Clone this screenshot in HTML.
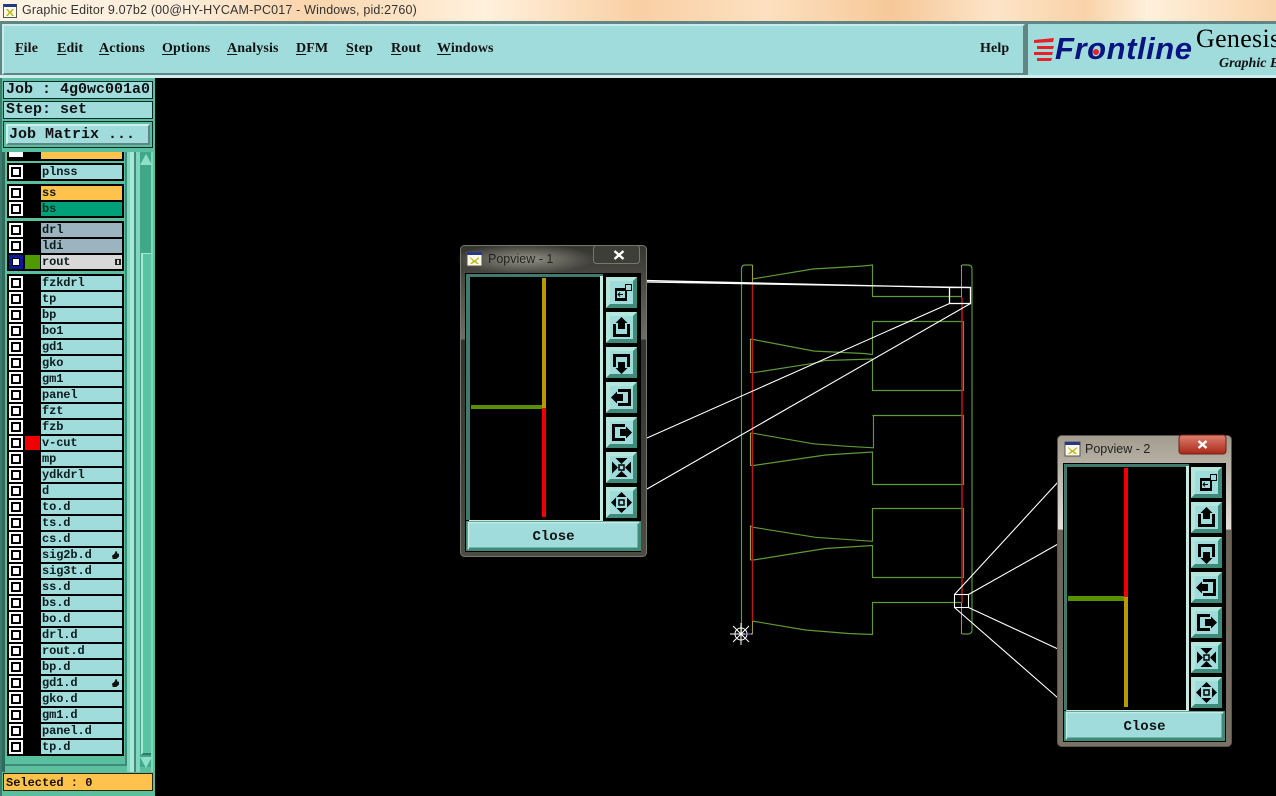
<!DOCTYPE html>
<html><head><meta charset="utf-8"><title>Graphic Editor</title>
<style>
html,body{margin:0;padding:0;width:1276px;height:796px;overflow:hidden;background:#000}
#p{position:relative;width:1276px;height:796px;overflow:hidden;background:#000}
#p div{position:absolute;box-sizing:border-box}
.m{font:bold 14px "Liberation Serif",serif;letter-spacing:.12px;color:#111;top:41px;white-space:nowrap}
.m u{text-underline-offset:2px}
.mono{font:bold 15px "Liberation Mono",monospace;color:#111;white-space:pre}
.blk{background:#000;left:7px;width:117px}
.r{left:41px;width:81px;height:14px;background:#a0dcdc;font:bold 12px/14px "Liberation Mono",monospace;color:#0c1c1c;padding-left:1px;letter-spacing:-.1px}
.r::before{content:"";position:absolute;left:-32px;top:0;width:14px;height:14px;box-sizing:border-box;background:#fff;border:2px solid #fff;box-shadow:inset 0 0 0 2px #000}
.r.n::before{background:#fff;border:3px solid #0a1a9a;box-shadow:inset 0 0 0 1px #000}
.s{left:25px;width:15px;height:14px}
.h::after{content:"";position:absolute;right:3px;top:3px;width:7px;height:8px;background:#111;clip-path:polygon(55% 0,75% 10%,70% 30%,100% 35%,100% 70%,60% 100%,10% 100%,0 60%,35% 35%)}
.b{background:#a0dcdc;border:3px solid;border-color:#d0f0ec #3f8a78 #3f8a78 #d0f0ec;text-align:center;font:bold 14px/21px "Liberation Mono",monospace;color:#111}
svg{position:absolute;left:0;top:0}
</style></head><body><div id="p">

<!-- title bar -->
<div style="left:0;top:0;width:1276px;height:22px;background:linear-gradient(90deg,#fff4e4 0,#fdecd8 15%,#fbd5ac 24%,#fff1dd 38%,#f9cfa4 50%,#fde0c0 60%,#f6c898 70%,#fde4c8 78%,#f9d2a8 85%,#fff0dc 90%,#fad4aa 100%)"></div>
<div style="left:22px;top:3px;font:12.5px 'Liberation Sans',sans-serif;letter-spacing:.17px;color:#333;white-space:nowrap;width:400px">Graphic Editor 9.07b2 (00@HY-HYCAM-PC017 - Windows, pid:2760)</div>
<div style="left:3px;top:4px;width:14px;height:14px;background:#fffbe8;border:1px solid #555;border-top:3px solid #223a88"></div>
<div style="left:6px;top:9px;width:8px;height:7px;background:#b8b820;clip-path:polygon(0 0,25% 0,50% 35%,75% 0,100% 0,65% 50%,100% 100%,75% 100%,50% 65%,25% 100%,0 100%,35% 50%)"></div>

<!-- menu bar -->
<div style="left:0;top:21px;width:1276px;height:57px;background:#5f8584"></div>
<div style="left:2px;top:24px;width:1023px;height:51px;background:#a0dcdc;border:2px solid;border-color:#c8ecec #5f8584 #5f8584 #c8ecec"></div>
<div style="left:0;top:75px;width:1276px;height:3px;background:#cfeef0"></div>
<div style="left:1028px;top:24px;width:248px;height:51px;background:#a0dcdc"></div>
<div class="m" style="left:15px"><u>F</u>ile</div>
<div class="m" style="left:57px"><u>E</u>dit</div>
<div class="m" style="left:99px"><u>A</u>ctions</div>
<div class="m" style="left:162px"><u>O</u>ptions</div>
<div class="m" style="left:227px"><u>A</u>nalysis</div>
<div class="m" style="left:296px"><u>D</u>FM</div>
<div class="m" style="left:346px"><u>S</u>tep</div>
<div class="m" style="left:391px"><u>R</u>out</div>
<div class="m" style="left:437px"><u>W</u>indows</div>
<div class="m" style="left:980px">Help</div>
<div style="left:1055px;top:31px;font:italic bold 31px 'Liberation Sans',sans-serif;color:#0a1480;letter-spacing:.55px;white-space:nowrap">Frontline</div>
<div style="left:1196px;top:24px;font:26px 'Liberation Serif',serif;color:#000;white-space:nowrap;letter-spacing:.3px">Genesis</div>
<div style="left:1219px;top:56px;font:italic bold 14px 'Liberation Serif',serif;color:#111;white-space:nowrap">Graphic E</div>

<!-- left panel -->
<div style="left:0;top:78px;width:155px;height:718px;background:#5abf9f;border-left:2px solid #3f7a6c"></div>
<div style="left:3px;top:81px;width:150px;height:18px;background:#a0dcdc;border:1px solid #0a2a2a"></div>
<div class="mono" style="left:6px;top:81px">Job : 4g0wc001a0</div>
<div style="left:3px;top:101px;width:150px;height:18px;background:#a0dcdc;border:1px solid #0a2a2a"></div>
<div class="mono" style="left:6px;top:101px">Step: set</div>
<div style="left:3px;top:121px;width:150px;height:27px;background:#5abf9f;border:1px solid #0a2a2a"></div>
<div class="b" style="left:6px;top:124px;width:144px;height:21px;border-width:2px;border-color:#d0f0ec #5f8584 #5f8584 #d0f0ec"></div>
<div class="mono" style="left:9px;top:126px">Job Matrix ...</div>

<!-- scroll / list frame -->
<div style="left:2px;top:152px;width:3px;height:620px;background:#2f6a5c"></div>
<div style="left:5px;top:152px;width:122px;height:614px;background:#5abf9f;border-right:2px solid #3f8a78;border-bottom:2px solid #3f8a78"></div>
<div style="left:127px;top:152px;width:3px;height:620px;background:#7fd8bc"></div>
<div style="left:130px;top:152px;width:4px;height:620px;background:#a8e8d6"></div>
<div style="left:134px;top:152px;width:2px;height:620px;background:#3f8a78"></div>
<div style="left:136px;top:152px;width:4px;height:620px;background:#7fd8bc"></div>
<div style="left:140px;top:152px;width:11px;height:615px;background:#40a888"></div>
<div style="left:151px;top:152px;width:2px;height:620px;background:#7fd8bc"></div>
<div style="left:141px;top:253px;width:10px;height:502px;background:#58c4a4;border-left:2px solid #a8e8d6;border-top:1px solid #a8e8d6;border-bottom:2px solid #2f7a68"></div>
<div style="left:140px;top:154px;width:12px;height:11px;background:#8fe0c8;clip-path:polygon(50% 0,100% 100%,0 100%)"></div>
<div style="left:140px;top:757px;width:12px;height:11px;background:#8fe0c8;clip-path:polygon(0 0,100% 0,50% 100%)"></div>

<div class="blk" style="top:152px;height:9px"></div>
<div class="blk" style="top:163px;height:18px"></div>
<div class="blk" style="top:184px;height:34px"></div>
<div class="blk" style="top:221px;height:50px"></div>
<div class="blk" style="top:274px;height:482px"></div>

<div style="left:9px;top:152px;width:14px;height:5px;background:#fff"></div>
<div style="left:41px;top:152px;width:81px;height:7px;background:#ffc34d"></div>
<div class="r" style="top:165px">plnss</div>
<div class="r" style="top:186px;background:#ffc34d">ss</div>
<div class="r" style="top:202px;background:#00a078;color:#003020">bs</div>
<div class="r" style="top:223px;background:#9bb4bf">drl</div>
<div class="r" style="top:239px;background:#9bb4bf">ldi</div>
<div class="r n" style="top:255px;background:#d8d8d8;">rout</div>
<div class="s" style="top:255px;background:#4f9a00"></div>
<div style="left:115px;top:259px;width:6px;height:6px;background:#222;box-shadow:inset 0 0 0 1px #222"></div>
<div style="left:117px;top:260px;width:2px;height:4px;background:#d8d8d8"></div>

<div class="r" style="top:276px">fzkdrl</div>
<div class="r" style="top:292px">tp</div>
<div class="r" style="top:308px">bp</div>
<div class="r" style="top:324px">bo1</div>
<div class="r" style="top:340px">gd1</div>
<div class="r" style="top:356px">gko</div>
<div class="r" style="top:372px">gm1</div>
<div class="r" style="top:388px">panel</div>
<div class="r" style="top:404px">fzt</div>
<div class="r" style="top:420px">fzb</div>
<div class="r" style="top:436px">v-cut</div>
<div class="s" style="top:436px;background:#f00000"></div>
<div class="r" style="top:452px">mp</div>
<div class="r" style="top:468px">ydkdrl</div>
<div class="r" style="top:484px">d</div>
<div class="r" style="top:500px">to.d</div>
<div class="r" style="top:516px">ts.d</div>
<div class="r" style="top:532px">cs.d</div>
<div class="r h" style="top:548px">sig2b.d</div>
<div class="r" style="top:564px">sig3t.d</div>
<div class="r" style="top:580px">ss.d</div>
<div class="r" style="top:596px">bs.d</div>
<div class="r" style="top:612px">bo.d</div>
<div class="r" style="top:628px">drl.d</div>
<div class="r" style="top:644px">rout.d</div>
<div class="r" style="top:660px">bp.d</div>
<div class="r h" style="top:676px">gd1.d</div>
<div class="r" style="top:692px">gko.d</div>
<div class="r" style="top:708px">gm1.d</div>
<div class="r" style="top:724px">panel.d</div>
<div class="r" style="top:740px">tp.d</div>

<div style="left:3px;top:773px;width:150px;height:18px;background:#ffc34d;border:1px solid #332200"></div>
<div class="mono" style="left:6px;top:776px;font-size:12px">Selected : 0</div>

<!-- geometry, logo streaks, windows -->
<svg width="1276" height="796" viewBox="0 0 1276 796">
<defs>
<linearGradient id="f1" x1="0" y1="0" x2="0" y2="1">
<stop offset="0" stop-color="#35352f"/><stop offset=".3" stop-color="#6e6e66"/><stop offset=".305" stop-color="#33332e"/><stop offset="1" stop-color="#4c4c45"/></linearGradient>
<linearGradient id="f2" x1="0" y1="0" x2="0" y2="1">
<stop offset="0" stop-color="#a29c8e"/><stop offset=".3" stop-color="#e4e0d8"/><stop offset=".305" stop-color="#6a6256"/><stop offset="1" stop-color="#7a7266"/></linearGradient>
<linearGradient id="x2" x1="0" y1="0" x2="0" y2="1"><stop offset="0" stop-color="#e08070"/><stop offset="1" stop-color="#a82818"/></linearGradient>
<radialGradient id="gl"><stop offset="0" stop-color="#a8a89a" stop-opacity=".8"/><stop offset="1" stop-color="#a8a89a" stop-opacity="0"/></radialGradient>
<g id="tb">
<rect width="33" height="33" fill="#000"/>
<rect x="1" y="1" width="31" height="31" fill="#6fc4b0"/>
<path d="M1 1h31l-4 4H5v23l-4 4z" fill="#b4e6dc"/>
<path d="M32 32H1l4-4h23V5l4-4z" fill="#3f8a78"/>
<rect x="5" y="5" width="23" height="23" fill="#a0dcdc"/>
</g>
<g id="ic">
<rect x="10" y="12" width="12" height="13" fill="#000"/>
<rect x="12" y="15" width="8" height="7" fill="#a0dcdc"/>
<path d="M13 18.500h5M15 16.500l-2 2 2 2" fill="none" stroke="#000"/>
<rect x="20.500" y="8.500" width="6" height="6" fill="#a0dcdc" stroke="#000"/>
</g>
<g id="up"><path d="M16.500 6l6 6h-2.500v6h-7v-6h-2.500z"/><path d="M8 13h3v10h11V13h3v13H8z"/></g>
<g id="dn"><path d="M16.500 28l-6-6h2.500v-6h7v6h2.500z"/><path d="M8 8h17v13h-3V11H11v10H8z"/></g>
<g id="lf"><path d="M6 16.500l6-6v2.500h6v7h-6v2.500z"/><path d="M13 8h13v17H13v-3h10V11H13z"/></g>
<g id="rt"><path d="M27 16.500l-6-6v2.500h-6v7h6v2.500z"/><path d="M20 8H7v17h13v-3H10V11h10z"/></g>
<g id="ex"><path d="M16.500 13l-6-6h12zM16.500 20l-6 6h12zM13 16.500l-6-6v12zM20 16.500l6-6v12z"/><path d="M14 14h5v5h-5z" fill="none" stroke="#000" stroke-width="1.500"/></g>
<g id="ct"><path d="M16.500 6l-5 5h10zM16.500 27l-5-5h10zM6 16.500l5-5v10zM27 16.500l-5-5v10z"/><path d="M14 14h5v5h-5z" fill="none" stroke="#000" stroke-width="1.500"/></g>
<g id="bts">
<use href="#tb"/><use href="#ic"/>
<g transform="translate(0,35)"><use href="#tb"/><use href="#up"/></g>
<g transform="translate(0,70)"><use href="#tb"/><use href="#dn"/></g>
<g transform="translate(0,105)"><use href="#tb"/><use href="#lf"/></g>
<g transform="translate(0,140)"><use href="#tb"/><use href="#rt"/></g>
<g transform="translate(0,175)"><use href="#tb"/><use href="#ex"/></g>
<g transform="translate(0,210)"><use href="#tb"/><use href="#ct"/></g>
</g>
<g id="xi"><rect width="15" height="14" fill="#fffbe8" stroke="#555"/><rect width="15" height="3" fill="#223a88"/><path d="M3 5l4.500 3.500L12 5v1.500L9 9l3 3h-2L7.500 10 5 12H3l3-3-3-3z" fill="#b8b820"/></g>
</defs>

<!-- logo streaks -->
<g fill="#e8202a"><path d="M1034 40l20-2-1 4-19 1zM1037 46h17l-1 3h-16zM1034 52h19l-1 3h-18zM1037 58h15l-1 3h-14z"/></g>
<circle cx="1096" cy="52" r="3" fill="#e8202a"/>

<!-- board -->
<g fill="none" stroke="#5f9a38" stroke-width="1.150">
<path d="M741.500 634V269q0-4 4-4h7"/>
<path d="M752.500 265v14l60.500-10 50-3 9.500-1v31.500H961.500"/>
<path d="M872.500 321.500h91v69h-91V359l-47 1.500-12 2.800-60 9.400-3-.2v-33.200l3 .2 60 11.500 50 2.500 9 1v-33"/>
<path d="M872.500 415.500h91v69h-91V452l-47 3-72 10.500-3-.2v-32.200l3 .2 60 10.500 34 2.500 26 1.500v-32"/>
<path d="M872.500 508.500h91v69h-91v-32l-47 3-72 11.500-3-.2v-33.800l3 1.300 62 10 57 4v-33.300"/>
<path d="M961.500 602.500h-89v32l-24-1-43-3.500-53.500-9"/>
<path d="M962 265h6q4 0 4 4v361q0 4-4 4h-6"/>
</g>
<g fill="none" stroke="#a09848" stroke-width="1">
<path d="M961.500 265v32M961.500 603v31M752.500 621v13h-5M752.500 265v17M750.500 339v34M750.500 433v33M750.500 526v34"/>
</g>
<path d="M752.500 282V621M962 297V603" stroke="#b81a1a" stroke-width="1.500" fill="none"/>
<g fill="none" stroke="#fff" stroke-width="1">
<path d="M741 623v22M730 634h22M733 626l16 16M749 626l-16 16"/>
<circle cx="741" cy="634" r="6"/>
</g>
<circle cx="741" cy="634" r="1.600" fill="#fff"/>
<path d="M745 634h6" stroke="#a080e0"/>

<!-- callouts -->
<g fill="none" stroke="#fff" stroke-width="1.100">
<rect x="949.500" y="287.500" width="21" height="16" stroke-width="1.300"/>
<path d="M647 280.500L949.500 287.500M647 282L970.500 287.500" stroke-width="1.300"/>
<path d="M949.500 303.500L647 438M970.500 303.500L647 489"/>
<rect x="954.500" y="594.500" width="14" height="13"/>
<path d="M954.500 594.500L1058 482M968.500 594.500L1058 544M968.500 607.500L1058 649M954.500 607.500L1058 698"/>
</g>

<!-- popview 1 -->
<rect x="460.500" y="245.500" width="186" height="311" rx="4" fill="url(#f1)" stroke="#77776c"/>
<ellipse cx="525" cy="259" rx="70" ry="15" fill="url(#gl)"/>
<rect x="593.500" y="245.500" width="46" height="18" rx="3" fill="#3e3e38" stroke="#77776c"/>
<path d="M614.500 251l9 8M623.500 251l-9 8" stroke="#fff" stroke-width="2.400"/>
<use href="#xi" x="467" y="252"/>
<text x="488" y="263" font-family="Liberation Sans, sans-serif" font-size="12.500" fill="#222">Popview - 1</text>
<rect x="465" y="273" width="176" height="279" fill="#000"/>
<rect x="466" y="274" width="137" height="246" fill="#3f7a6c"/>
<path d="M469 520h131V276h3v247H469z" fill="#c4ece4"/>
<rect x="470" y="277" width="130" height="243" fill="#000"/>
<rect x="542" y="278" width="4" height="130" fill="#b89a00"/>
<rect x="542" y="408" width="4" height="109" fill="#f00000"/>
<rect x="471" y="405" width="71" height="4" fill="#5a9000"/>
<use href="#bts" x="605" y="276"/>
<rect x="466" y="521" width="175" height="30" fill="#3f8a78"/>
<rect x="468.500" y="522.500" width="170" height="26" fill="#a0dcdc" stroke="#c4ece4" stroke-width="1.500"/>
<path d="M469 548.500h169.500v-25" fill="none" stroke="#3f8a78" stroke-width="2"/>
<text x="553.500" y="540" text-anchor="middle" font-family="Liberation Mono, monospace" font-weight="bold" font-size="14" fill="#111">Close</text>

<!-- popview 2 -->
<rect x="1057.500" y="435.500" width="174" height="311" rx="4" fill="url(#f2)" stroke="#5a544a"/>
<rect x="1179" y="435" width="47" height="19" rx="3" fill="url(#x2)" stroke="#6a2018"/>
<path d="M1198.500 441l8 7M1206.500 441l-8 7" stroke="#fff" stroke-width="2.400"/>
<use href="#xi" x="1065" y="442"/>
<text x="1085" y="453" font-family="Liberation Sans, sans-serif" font-size="12.500" fill="#222">Popview - 2</text>
<rect x="1063" y="463" width="163" height="279" fill="#000"/>
<rect x="1064" y="464" width="125" height="246" fill="#3f7a6c"/>
<path d="M1066 710h120V466h3v247h-123z" fill="#c4ece4"/>
<rect x="1067" y="467" width="119" height="243" fill="#000"/>
<rect x="1124" y="468" width="4" height="129" fill="#f00000"/>
<rect x="1124" y="597" width="4" height="110" fill="#b89a00"/>
<rect x="1068" y="596" width="56" height="5" fill="#5a9000"/>
<use href="#bts" x="1190" y="466"/>
<rect x="1064" y="711" width="161" height="30" fill="#3f8a78"/>
<rect x="1066.500" y="712.500" width="156" height="26" fill="#a0dcdc" stroke="#c4ece4" stroke-width="1.500"/>
<path d="M1067 738.500h155.500v-25" fill="none" stroke="#3f8a78" stroke-width="2"/>
<text x="1144.500" y="730" text-anchor="middle" font-family="Liberation Mono, monospace" font-weight="bold" font-size="14" fill="#111">Close</text>
</svg>
</div></body></html>
